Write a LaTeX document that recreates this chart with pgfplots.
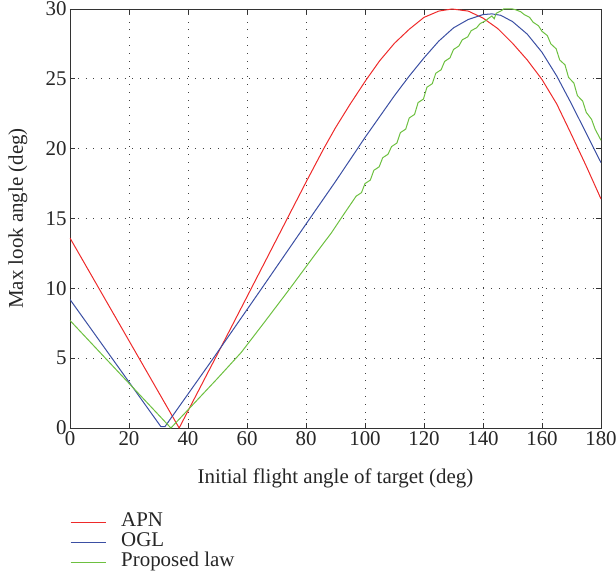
\documentclass[border=0pt]{standalone}
\usepackage{pgfplots}
\pgfplotsset{compat=1.18}
\usepackage{fontspec}
\setmainfont{Liberation Serif}
\usetikzlibrary{calc}
\definecolor{apn}{HTML}{EE2A2A}
\definecolor{ogl}{HTML}{3B4FA3}
\definecolor{prop}{HTML}{6DC040}

\begin{document}
\begin{tikzpicture}
\begin{axis}[
    name=ax,
    width=531bp, height=419bp, scale only axis,
    xmin=0, xmax=180, ymin=0, ymax=30,
    xtick={0,20,...,180}, ytick={0,5,...,30},
    tick align=inside, major tick length=5bp,
    grid=major,
    grid style={black!75, line width=0.7bp, dash pattern=on 0.8bp off 7bp},
    axis line style={black!80, line width=0.8bp},
    tick style={black!80, line width=0.8bp},
    /pgf/number format/assume math mode=true,
    ticklabel style={font=\fontsize{21}{24}\selectfont, text=black!85},
    label style={font=\fontsize{21}{24}\selectfont, text=black!85},
    xlabel={Initial flight angle of target (deg)},
    ylabel={Max look angle (deg)},
    xlabel style={at={(axis description cs:0.5,-0.121)}, anchor=center},
    ylabel style={at={(axis description cs:-0.098,0.5)}, anchor=center},
    legend style={at={(axis description cs:0,-0.2)}, anchor=north west,
        draw=none, fill=none, inner xsep=0pt, inner ysep=0pt,
        font=\fontsize{21}{20}\selectfont, text=black!85,
        nodes={inner sep=0pt, text height=14bp, text depth=6bp},
        column sep=15bp},
    legend cell align=left,
    legend image code/.code={\draw[#1, line width=1bp] (0bp,0bp) -- (35bp,0bp);},
    every axis plot/.append style={line width=1bp},
]
\addplot[apn] coordinates {
(0,13.6)(37,0)(50,5.3)(60,9.4)(70,13.5)(80,17.6)(86,20.0)(90,21.5)(95,23.2)
(100.3,24.9)(105,26.3)(110,27.55)(115,28.55)(120,29.4)(125,29.85)(129.5,30)
(135,29.85)(140,29.35)(145,28.6)(150,27.55)(155,26.35)(160,24.95)(165,23.2)
(170,21.0)(175,18.75)(180,16.4)
};
\addlegendentry{APN}
\addplot[ogl] coordinates {
(0,9.2)(30.8,0.1)(32.2,0.1)(48.6,5)(65,10)(80,14.6)(90,17.65)(100,20.8)
(105,22.3)(110,23.8)(115,25.2)(120,26.5)(125,27.7)(130,28.65)(135,29.25)
(140,29.6)(143,29.65)(146,29.55)(150,29.1)(155,28.2)(160,26.9)(165,25.2)
(170,23.2)(175,21.1)(180,19.0)
};
\addlegendentry{OGL}
\addplot[prop] coordinates {
(0,7.7)(34.2,0)(42,1.75)(50,3.55)(58,5.4)(66,7.6)(74.6,10)(83,12.4)(88.7,14.0)
(92,15.05)(97,16.6)(98.8,16.85)(100,17.5)(101.8,17.75)(103,18.45)(104.8,18.7)
(106,19.35)(107.8,19.6)(109,20.15)(110.8,20.4)(112,21.15)(113.8,21.4)
(115,22.2)(116.8,22.45)(118,23.3)(119.8,23.55)(121,24.4)(122.8,24.65)
(124,25.4)(125.8,25.65)(127,26.25)(128.8,26.5)(130,27.1)(131.8,27.35)
(133,27.8)(134.8,28.0)(136,28.45)(137.8,28.65)(139,28.95)(140.8,29.15)
(142,29.35)(143,29.5)(143.8,29.3)(144.5,29.7)(146,29.85)(147,30)(150,30)
(151,29.95)(152.8,29.8)(154,29.6)(155.8,29.4)(157,29.05)(158.8,28.8)
(160,28.4)(161.8,28.1)(163,27.5)(164.8,27.15)(166,26.35)(167.8,26.0)
(169,25.1)(170.8,24.7)(172,23.8)(173.8,23.4)(175,22.6)(176.8,22.1)
(178,21.4)(180,20.6)
};
\addlegendentry{Proposed law}
\end{axis}
\pgfresetboundingbox
\path ($(ax.south west)+(-70bp,-150bp)$) rectangle ($(ax.north east)+(15bp,9bp)$);
\end{tikzpicture}
\end{document}
